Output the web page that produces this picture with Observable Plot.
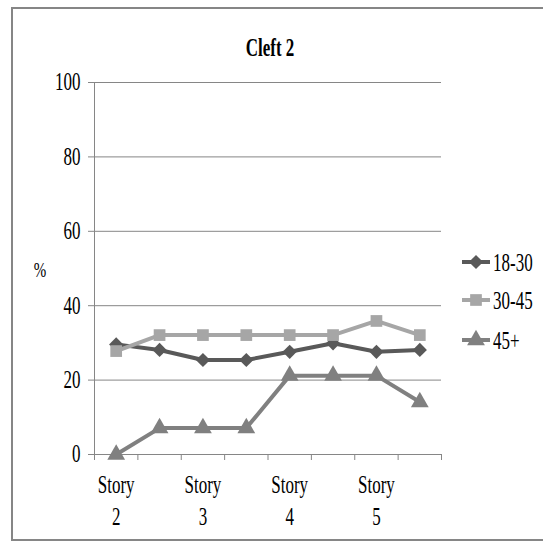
<!DOCTYPE html>
<html><head><meta charset="utf-8">
<script src="https://cdn.jsdelivr.net/npm/d3@7"></script>
<script src="https://cdn.jsdelivr.net/npm/@observablehq/plot@0.6"></script>
<style>body{margin:0;background:#fff}</style>
</head><body><div id="chart"></div>
<script>
const title = "Cleft 2";
const yLabel = "%";
const storyLabels = ["Story\n2", "Story\n3", "Story\n4", "Story\n5"];
const seriesNames = ["18-30", "30-45", "45+"];
const s1830 = [29.6, 28.1, 25.4, 25.4, 27.6, 29.9, 27.6, 28.1];
const s3045 = [27.8, 32.1, 32.1, 32.1, 32.1, 32.1, 35.9, 32.1];
const s45 = [0, 7.1, 7.1, 7.1, 21.2, 21.2, 21.2, 14.1];
const yTicks = [0, 20, 40, 60, 80, 100];
const colors = ["#595959", "#a6a6a6", "#808080"];
const symbols = ["diamond2", "square", "triangle"];
const radii = [6.4, 6.6, 6.6];

const seriesValues = [s1830, s3045, s45];
const nPts = s1830.length;
const rows = seriesValues.map((vals, si) => vals.map((v, i) => ({series: seriesNames[si], x: i + 0.5, y: v})));
const labelRows = storyLabels.map((t, i) => ({x: i * 2 + 0.5, t}));
const axisColor = "#868686";
const SY = 1.45;

const marks = [
  Plot.gridY(yTicks.slice(1), {stroke: axisColor, strokeOpacity: 1}),
  Plot.ruleY([0], {stroke: axisColor}),
  Plot.ruleX([0], {stroke: axisColor}),
  Plot.axisY({ticks: yTicks, tickSize: 6, tickPadding: 8, stroke: axisColor, label: null}),
  Plot.axisX({ticks: d3.range(nPts + 1), tickSize: 6, stroke: axisColor, tickFormat: () => "", label: null}),
  Plot.text(labelRows, {x: "x", y: () => 0, text: "t", dy: 16, lineAnchor: "top", lineHeight: 1.3, fill: "black"})
];
rows.forEach((r, si) => {
  marks.push(Plot.line(r, {x: "x", y: "y", stroke: colors[si], strokeWidth: 4}));
  marks.push(Plot.dot(r, {x: "x", y: "y", fill: colors[si], symbol: () => symbols[si], r: radii[si], stroke: "none"}));
});

const svg = Plot.plot({
  width: 543, height: 541,
  marginLeft: 94, marginRight: 102, marginTop: 82, marginBottom: 87,
  x: {domain: [0, nPts], axis: null},
  y: {domain: [0, 100], axis: null},
  symbol: {type: "identity"},
  style: {fontFamily: "Liberation Serif", fontSize: "17px", color: "black", background: "white"},
  marks
});

const s = d3.select(svg);
s.selectAll("text").each(function () {
  const t = this.getAttribute("transform") || "";
  this.setAttribute("transform", t + ` scale(1,${SY})`);
});

// frame
s.append("rect").attr("x", 12).attr("y", 8).attr("width", 600).attr("height", 532)
  .attr("fill", "none").attr("stroke", axisColor).attr("stroke-width", 2);
// title
s.append("text").attr("transform", `translate(270,56) scale(1,${SY})`)
  .attr("text-anchor", "middle").attr("font-weight", "bold").attr("font-size", 17).text(title);
// y label
s.append("text").attr("transform", `translate(40,277) scale(1,${SY})`)
  .attr("text-anchor", "middle").attr("font-size", 15).text(yLabel);
// legend
const legY = [262, 300, 340];
const symMap = {diamond2: d3.symbolDiamond2, square: d3.symbolSquare, triangle: d3.symbolTriangle};
seriesNames.forEach((name, i) => {
  const g = s.append("g").attr("transform", `translate(0,${legY[i]})`);
  g.append("line").attr("x1", 462).attr("x2", 490).attr("y1", 0).attr("y2", 0)
    .attr("stroke", colors[i]).attr("stroke-width", 4);
  g.append("path").attr("transform", "translate(476,0)")
    .attr("d", d3.symbol().type(symMap[symbols[i]]).size(radii[i] * radii[i] * Math.PI)())
    .attr("fill", colors[i]);
  g.append("text").attr("transform", `translate(493,9) scale(1,${SY})`)
    .attr("text-anchor", "start").attr("font-size", 17).text(name);
});

document.getElementById("chart").appendChild(svg);
</script>
</body></html>
